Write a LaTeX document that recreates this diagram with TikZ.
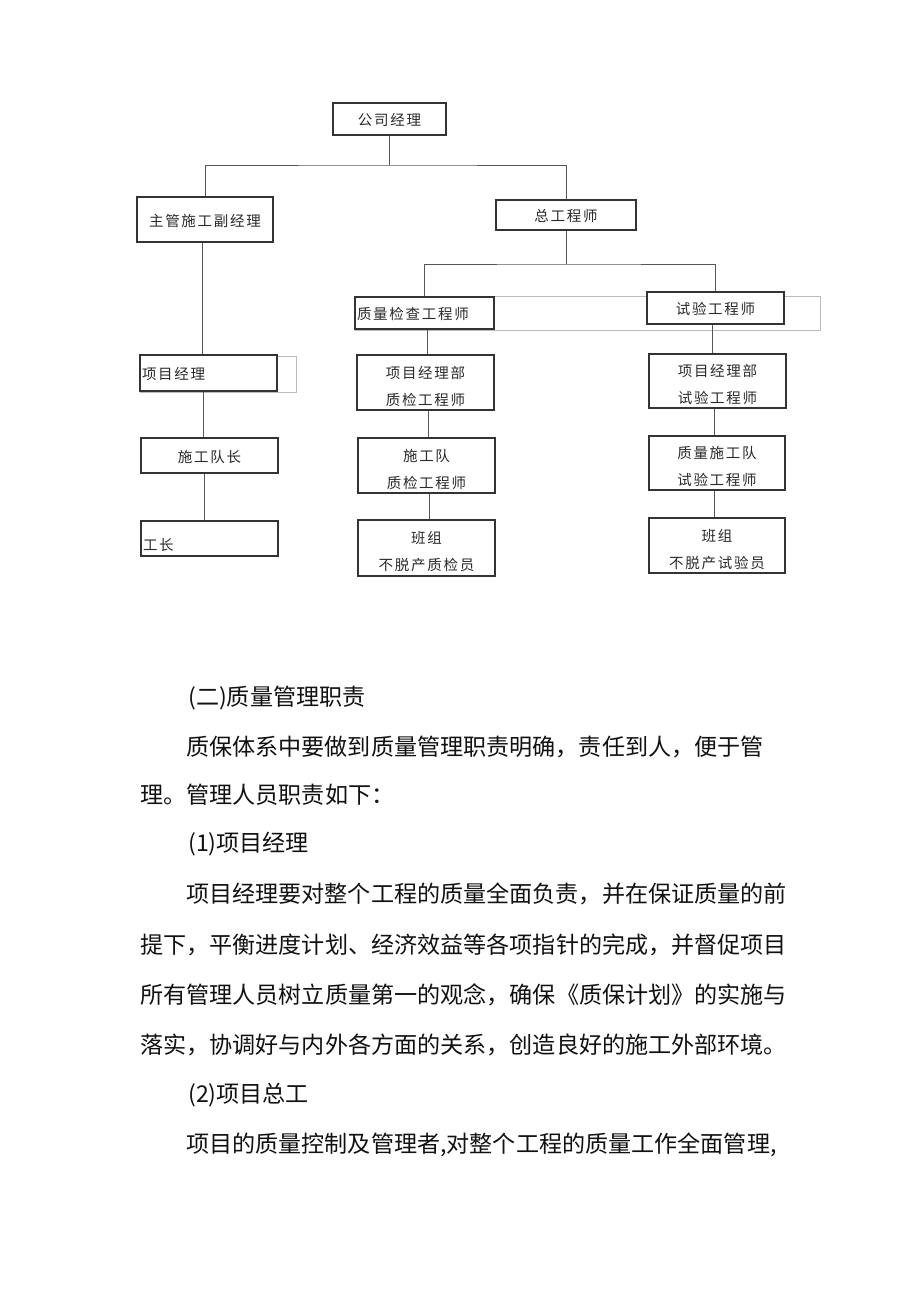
\documentclass[tikz,border=0pt]{standalone}
\usepackage{fontspec}
\newfontfamily\cjk{Noto Sans CJK SC}
\newfontfamily\cjkchart[LetterSpace=12]{Noto Sans CJK SC}
\newcommand\mytstrut{\rule{0pt}{15pt}}
\newcommand\mytwostrut{\rule{0pt}{20pt}}
\definecolor{boxc}{HTML}{333333}
\definecolor{linec}{HTML}{555555}
\definecolor{greyc}{HTML}{BBBBBB}
\definecolor{txtc}{HTML}{2A2A2A}
\definecolor{bodyc}{HTML}{111111}
\begin{document}
\begin{tikzpicture}[x=1pt,y=-1pt,
  box/.style={draw=boxc, line width=1.5pt, fill=white, inner sep=0pt,
    font=\cjkchart\fontsize{14.5}{27}\selectfont, text=txtc, align=center},
  lbox/.style={box, align=left, inner xsep=2pt},
  conn/.style={draw=linec, line width=1pt},
  ghost/.style={draw=greyc, line width=0.8pt},
  body/.style={font=\cjk\fontsize{23.1}{28}\selectfont, text=bodyc, inner sep=0pt, anchor=base west}]
\useasboundingbox[fill=white] (0,0) rectangle (920,1301);

% light grey helper frames
\draw[ghost] (355,296) rectangle (820,330);
\draw[ghost] (140,356) rectangle (296,392);

% nodes
\node[box, minimum width=113pt, minimum height=32pt] (gs) at (389.5,119) {\mytstrut 公司经理};
\node[box, minimum width=136pt, minimum height=45pt] (zg) at (205,219.5) {\mytstrut 主管施工副经理};
\node[box, minimum width=140pt, minimum height=30pt] (zgcs) at (566,215) {\mytstrut 总工程师};
\node[lbox, text width=135pt, minimum height=32pt] (zl) at (424.5,313) {\mytstrut 质量检查工程师};
\node[box, minimum width=137pt, minimum height=32pt] (sy) at (715.5,308) {\mytstrut 试验工程师};

\node[lbox, text width=133pt, minimum height=36pt] (xm) at (208.5,373) {\mytstrut 项目经理};
\node[box, minimum width=137pt, minimum height=35pt] (sd) at (209.5,455.5) {\mytstrut 施工队长};
\node[lbox, text width=133pt, minimum height=35pt] (gz) at (209.5,538.5) {\raisebox{-12pt}[0pt][0pt]{工长}};

\node[box, minimum width=137pt, minimum height=55pt] (a1) at (425.5,382.5) {\mytwostrut 项目经理部\\质检工程师};
\node[box, minimum width=137pt, minimum height=55pt] (a2) at (426.5,465.5) {\mytwostrut 施工队\\质检工程师};
\node[box, minimum width=137pt, minimum height=56pt] (a3) at (426.5,548) {\mytwostrut 班组\\不脱产质检员};

\node[box, minimum width=137pt, minimum height=54pt] (b1) at (717.5,381) {\mytwostrut 项目经理部\\试验工程师};
\node[box, minimum width=136pt, minimum height=54pt] (b2) at (717,463) {\mytwostrut 质量施工队\\试验工程师};
\node[box, minimum width=136pt, minimum height=55pt] (b3) at (717,545.5) {\mytwostrut 班组\\不脱产试验员};

% connectors
\coordinate (j1) at (389.5,165);
\coordinate (j2) at (568,264);
\draw[conn] (gs.south) -- (j1);
\draw[conn] (zg.north) |- (j1) -| (zgcs.north);
\draw[conn] (zgcs.south) -- (zgcs.south |- j2);
\draw[conn] (zl.north) |- (j2) -| (sy.north);

\draw[conn] ([xshift=-3pt]zg.south) -- ([xshift=-3pt]zg.south |- xm.north);
\draw[conn] ([xshift=-5pt]xm.south) -- ([xshift=-5pt]xm.south |- sd.north);
\draw[conn] ([xshift=-5pt]sd.south) -- ([xshift=-5pt]sd.south |- gz.north);

\draw[conn] ([xshift=3pt]zl.south) -- ([xshift=3pt]zl.south |- a1.north);
\draw[conn] ([xshift=3pt]a1.south) -- ([xshift=3pt]a1.south |- a2.north);
\draw[conn] ([xshift=3pt]a2.south) -- ([xshift=3pt]a2.south |- a3.north);

\draw[conn] ([xshift=-3pt]sy.south) -- ([xshift=-3pt]sy.south |- b1.north);
\draw[conn] ([xshift=-3pt]b1.south) -- ([xshift=-3pt]b1.south |- b2.north);
\draw[conn] ([xshift=-3pt]b2.south) -- ([xshift=-3pt]b2.south |- b3.north);

% body text
\node[body] (t1) at (188,705) {(二)质量管理职责};
\node[body] (t2) at (186,755) {质保体系中要做到质量管理职责明确，责任到人，便于管};
\node[body] (t3) at (140,803) {理。管理人员职责如下：};
\node[body] (t4) at (188,851) {(1)项目经理};
\node[body] (t5) at (186,902) {项目经理要对整个工程的质量全面负责，并在保证质量的前};
\node[body] (t6) at (140,953) {提下，平衡进度计划、经济效益等各项指针的完成，并督促项目};
\node[body] (t7) at (140,1003) {所有管理人员树立质量第一的观念，确保《质保计划》的实施与};
\node[body] (t8) at (140,1053) {落实，协调好与内外各方面的关系，创造良好的施工外部环境。};
\node[body] (t9) at (188,1102) {(2)项目总工};
\node[body] (t10) at (186,1152) {项目的质量控制及管理者,对整个工程的质量工作全面管理,};
\end{tikzpicture}
\end{document}
